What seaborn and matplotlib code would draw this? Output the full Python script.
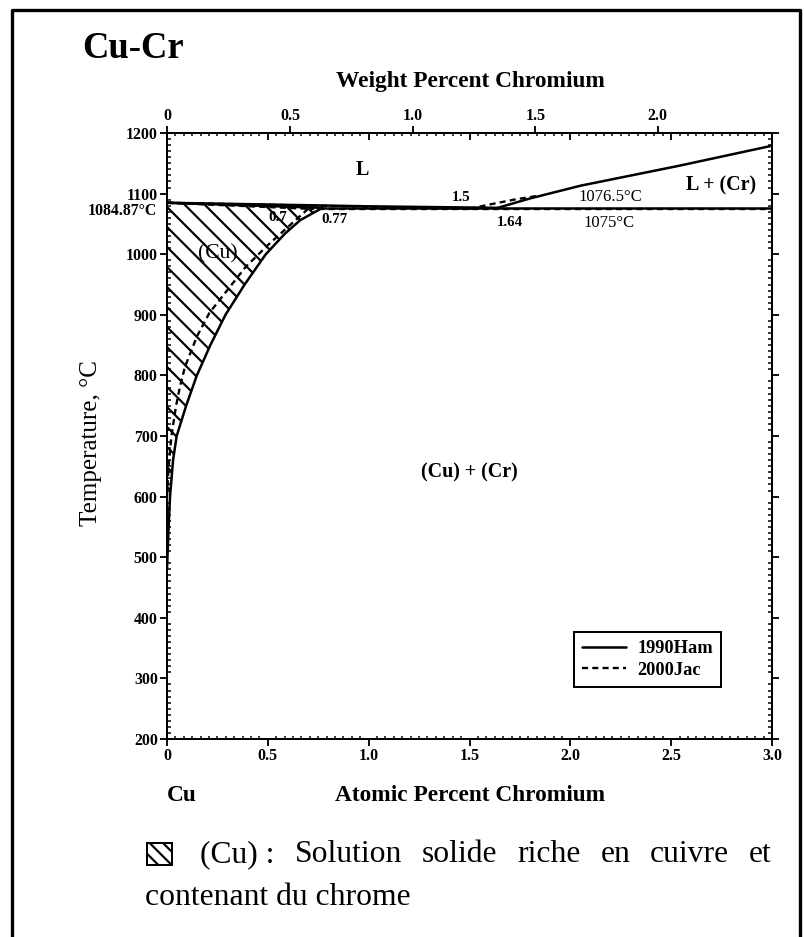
import numpy as np
import pandas as pd
import matplotlib
matplotlib.use("Agg")
import matplotlib.pyplot as plt
import seaborn as sns
from matplotlib.lines import Line2D
from matplotlib.patches import Rectangle
from matplotlib.ticker import MultipleLocator, NullLocator

sns.set_theme(style="white")
plt.rcParams['font.family'] = ['Liberation Serif', 'DejaVu Serif']
plt.rcParams['hatch.linewidth'] = 1.3
for k in ['text.color', 'axes.labelcolor', 'xtick.color', 'ytick.color', 'axes.edgecolor']:
    plt.rcParams[k] = 'black'

# --- data (atomic % Cr, temperature in degC) ---
# 1990Ham, solid lines
ham_solvus_at = [0.0, 0.008, 0.015, 0.03, 0.048, 0.095, 0.148, 0.215, 0.29, 0.385, 0.49, 0.585, 0.66, 0.77]
ham_solvus_T = [480, 550, 600, 660, 700, 750, 800, 850, 900, 950, 1000, 1034, 1056, 1076.5]
ham_solidus_at = [0.0, 0.77]
ham_solidus_T = [1084.87, 1076.5]
ham_liq_low_at = [0.0, 0.5, 1.0, 1.64]
ham_liq_low_T = [1084.87, 1082.0, 1079.0, 1076.5]
ham_eut_at = [0.77, 3.0]
ham_eut_T = [1076.5, 1076.5]
ham_liq_cr_at = [1.64, 1.8, 2.05, 2.54, 3.0]
ham_liq_cr_T = [1076.5, 1092, 1113, 1146, 1179]

# 2000Jac, dashed lines
jac_solvus_at = [0.0, 0.008, 0.022, 0.045, 0.064, 0.089, 0.148, 0.21, 0.30, 0.39, 0.50, 0.62, 0.70]
jac_solvus_T = [600, 650, 700, 750, 781, 814, 864, 903, 941, 979, 1015, 1051, 1075]
jac_solidus_at = [0.0, 0.70]
jac_solidus_T = [1084.87, 1075]
jac_liq_low_at = [0.0, 1.5]
jac_liq_low_T = [1084.87, 1075]
jac_eut_at = [0.70, 3.0]
jac_eut_T = [1075, 1075]
jac_liq_cr_at = [1.5, 1.6, 1.72, 1.85]
jac_liq_cr_T = [1075, 1082, 1090, 1097]

temp_ticks = list(range(200, 1201, 100))
at_ticks = [0, 0.5, 1.0, 1.5, 2.0, 2.5, 3.0]
at_tick_labels = ['0', '0.5', '1.0', '1.5', '2.0', '2.5', '3.0']
wt_ticks = [0, 0.5, 1.0, 1.5, 2.0]
wt_tick_labels = ['0', '0.5', '1.0', '1.5', '2.0']

M_CR, M_CU = 52.00, 63.55


def at2wt(at):
    at = np.asarray(at, dtype=float)
    return 100 * at * M_CR / (at * M_CR + (100 - at) * M_CU)


def wt2at(wt):
    wt = np.asarray(wt, dtype=float)
    return 100 * (wt / M_CR) / (wt / M_CR + (100 - wt) / M_CU)


W, H, DPI = 804, 937, 120
fig = plt.figure(figsize=(W / DPI, H / DPI), dpi=DPI)
fig.patch.set_facecolor('white')


def fx(px):
    return px / W


def fy(py):
    return 1 - py / H


ax = fig.add_axes([fx(167), fy(739), (772 - 167) / W, (739 - 133) / H])
ax.set_facecolor('white')

# hatched (Cu) region
poly_x = ham_solvus_at + [0.0]
poly_y = ham_solvus_T + [1084.87]
ax.fill(poly_x, poly_y, facecolor='none', edgecolor='black', hatch='\\\\', linewidth=0)

solid_kw = dict(color='black', linewidth=1.5, sort=False, estimator=None, ax=ax)
dash_kw = dict(color='black', linewidth=1.4, sort=False, estimator=None, ax=ax,
               linestyle=(0, (2.6, 1.8)))

for xs, ys in [(ham_solvus_at, ham_solvus_T), (ham_solidus_at, ham_solidus_T),
               (ham_liq_low_at, ham_liq_low_T), (ham_eut_at, ham_eut_T),
               (ham_liq_cr_at, ham_liq_cr_T)]:
    sns.lineplot(x=xs, y=ys, **solid_kw)

for xs, ys in [(jac_solvus_at, jac_solvus_T), (jac_solidus_at, jac_solidus_T),
               (jac_liq_low_at, jac_liq_low_T), (jac_eut_at, jac_eut_T),
               (jac_liq_cr_at, jac_liq_cr_T)]:
    sns.lineplot(x=xs, y=ys, **dash_kw)

ax.set_xlim(0, 3.0)
ax.set_ylim(200, 1200)
for s in ax.spines.values():
    s.set_linewidth(1.2)
    s.set_color('black')

# bottom / left / right ticks
ax.set_xticks(at_ticks)
ax.set_xticklabels(at_tick_labels, fontweight='bold', fontsize=9.5)
ax.set_yticks(temp_ticks)
ax.set_yticklabels([str(t) for t in temp_ticks], fontweight='bold', fontsize=9.5)
ax.xaxis.set_minor_locator(MultipleLocator(0.5 / 12))
ax.yaxis.set_minor_locator(MultipleLocator(10))
ax.tick_params(axis='x', which='major', direction='out', length=4, width=1.1, pad=1.5,
               bottom=True, top=False)
ax.tick_params(axis='x', which='minor', direction='in', length=2, width=0.9,
               bottom=True, top=False)
ax.tick_params(axis='y', which='major', direction='out', length=4, width=1.1, pad=1.5,
               left=True, right=True)
ax.tick_params(axis='y', which='minor', direction='in', length=2.2, width=0.9,
               left=True, right=True)
ax.set_xlabel('')
ax.set_ylabel('')

# top: at% ticks pointing inward
top_in = ax.secondary_xaxis('top')
top_in.set_xticks(at_ticks)
top_in.set_xticklabels([])
top_in.xaxis.set_minor_locator(MultipleLocator(0.5 / 12))
top_in.tick_params(which='major', direction='in', length=4, width=1.1)
top_in.tick_params(which='minor', direction='in', length=2, width=0.9)
top_in.spines['top'].set_linewidth(1.2)

# top: weight percent scale
top_wt = ax.secondary_xaxis('top', functions=(at2wt, wt2at))
top_wt.set_xticks(wt_ticks)
top_wt.set_xticklabels(wt_tick_labels, fontweight='bold', fontsize=9.5)
top_wt.xaxis.set_minor_locator(NullLocator())
top_wt.tick_params(which='major', direction='out', length=4, width=1.1, pad=1.5)
top_wt.spines['top'].set_linewidth(1.2)

# eutectic temperature on the left
ax.text(-0.0165, 1072, '1084.87°C', transform=ax.get_yaxis_transform(),
        ha='right', va='center', fontsize=9.5, fontweight='bold')

# phase labels
ax.text(0.97, 1139, 'L', ha='center', va='center', fontsize=12, fontweight='bold')
ax.text(2.747, 1114, 'L + (Cr)', ha='center', va='center', fontsize=12, fontweight='bold')
ax.text(1.5, 639, '(Cu) + (Cr)', ha='center', va='center', fontsize=12, fontweight='bold')
ax.text(0.25, 1000, '(Cu)', ha='center', va='center', fontsize=13)
ax.text(1.46, 1094, '1.5', ha='center', va='center', fontsize=9, fontweight='bold')
ax.text(2.20, 1094, '1076.5°C', ha='center', va='center', fontsize=10)
ax.text(1.70, 1052, '1.64', ha='center', va='center', fontsize=9, fontweight='bold')
ax.text(2.19, 1052, '1075°C', ha='center', va='center', fontsize=10)
ax.text(0.55, 1061, '0.7', ha='center', va='center', fontsize=9, fontweight='bold')
ax.text(0.83, 1057, '0.77', ha='center', va='center', fontsize=9, fontweight='bold')

# legend
handles = [Line2D([], [], color='black', lw=1.5),
           Line2D([], [], color='black', lw=1.4, ls=(0, (2.6, 1.8)))]
leg = ax.legend(handles, ['1990Ham', '2000Jac'], loc='lower right',
                bbox_to_anchor=(0.916, 0.086), borderaxespad=0, frameon=True,
                fancybox=False, framealpha=1, edgecolor='black',
                prop={'weight': 'bold', 'size': 11}, handlelength=2.4,
                handletextpad=0.6, borderpad=0.45, labelspacing=0.25)
leg.get_frame().set_linewidth(1.2)

# titles and axis labels
fig.text(fx(82), fy(58), 'Cu-Cr', fontsize=22, fontweight='bold', ha='left', va='baseline')
fig.text(fx(470), fy(87), 'Weight Percent Chromium', fontsize=14, fontweight='bold',
         ha='center', va='baseline')
fig.text(fx(470), fy(801), 'Atomic Percent Chromium', fontsize=14, fontweight='bold',
         ha='center', va='baseline')
fig.text(fx(167), fy(801), 'Cu', fontsize=14, fontweight='bold', ha='left', va='baseline')
fig.text(fx(91), fy(443), 'Temperature, °C', fontsize=15, rotation=90,
         ha='center', va='center')

# caption with hatched key square
fig.add_artist(Rectangle((fx(147), fy(865)), 25 / W, 22 / H, transform=fig.transFigure,
                         facecolor='white', edgecolor='black', hatch='\\\\\\', lw=1.2))

renderer = fig.canvas.get_renderer()
cap_size = 19
cap_words = ['(Cu)\u00a0:', 'Solution', 'solide', 'riche', 'en', 'cuivre', 'et']
widths = []
for w in cap_words:
    t = fig.text(0, 0, w, fontsize=cap_size)
    widths.append(t.get_window_extent(renderer).width)
    t.remove()
x_left, x_right = 200, 772
gap = (x_right - x_left - sum(widths)) / (len(cap_words) - 1)
xpos = x_left
for w, wd in zip(cap_words, widths):
    fig.text(fx(xpos), fy(862), w, fontsize=cap_size, ha='left', va='baseline')
    xpos += wd + gap
fig.text(fx(145), fy(905), 'contenant du chrome', fontsize=cap_size, ha='left', va='baseline')

# outer frame (left, top, right)
fig.add_artist(Line2D([fx(12), fx(12), fx(800), fx(800)], [fy(945), fy(10), fy(10), fy(945)],
                      transform=fig.transFigure, color='black', lw=2.0))

fig.savefig('out.png', dpi=DPI, facecolor='white')
